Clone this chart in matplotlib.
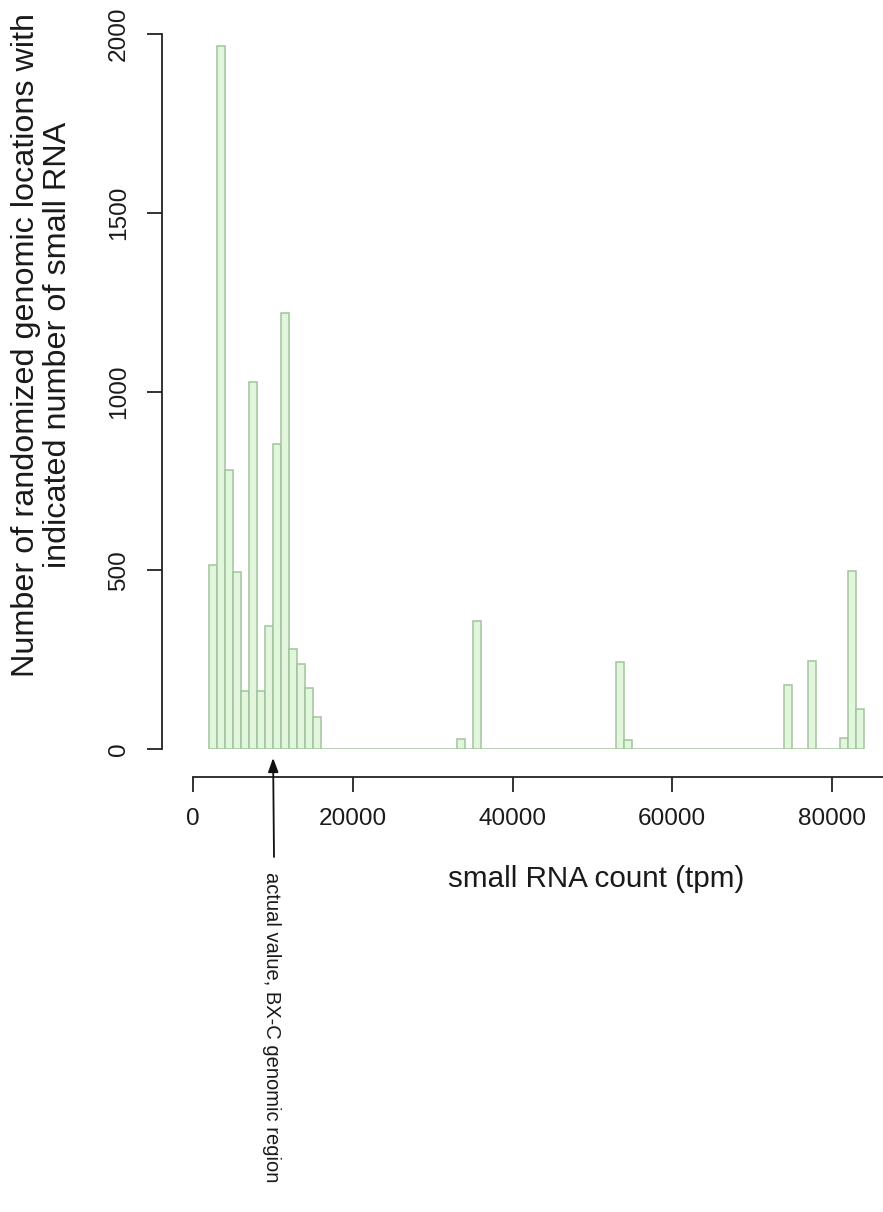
import numpy as np
import matplotlib
matplotlib.use("Agg")
import matplotlib.pyplot as plt

plt.rcParams['font.family'] = ['Liberation Sans', 'DejaVu Sans']

# histogram bins (tpm), width 1000, starting at 2000
bin_start = 2000
bin_width = 1000
counts = [
    515, 1966, 780, 496, 163, 1027, 161, 344, 853, 1219, 280, 239, 171, 89,   # 2k-16k
    0, 0, 0, 0, 0, 0, 0, 0, 0, 0, 0, 0, 0, 0, 0, 0, 0,                        # 16k-33k
    29, 0, 357,                                                                # 33k-36k
    0, 0, 0, 0, 0, 0, 0, 0, 0, 0, 0, 0, 0, 0, 0, 0, 0,                        # 36k-53k
    243, 24,                                                                   # 53k-55k
    0, 0, 0, 0, 0, 0, 0, 0, 0, 0, 0, 0, 0, 0, 0, 0, 0, 0, 0,                  # 55k-74k
    178, 0, 0, 246, 0, 0, 0, 31, 499, 112,                                     # 74k-84k
]
xticks = [0, 20000, 40000, 60000, 80000]
yticks = [0, 500, 1000, 1500, 2000]
actual_value = 10000

W, H = 883, 1212
fig = plt.figure(figsize=(W / 100, H / 100), dpi=100)

# axes spans x=0 at px 193.3 to right edge, y 0..2000 at px 749..34
px_per_x = (831.7 - 193.3) / 80000
x_right = (W - 193.3) / px_per_x
ax = fig.add_axes([193.3 / W, (H - 749) / H, (W - 193.3) / W, (749 - 34) / H])

lefts = bin_start + bin_width * np.arange(len(counts))
ax.bar(lefts, counts, width=bin_width, align='edge',
       color='#e2f5dd', edgecolor='#a2c59c', linewidth=1.1)

ax.set_xlim(0, x_right)
ax.set_ylim(0, 2000)

for s in ['top', 'right']:
    ax.spines[s].set_visible(False)
ax.spines['left'].set_position(('outward', 31.8 * 0.72))
ax.spines['bottom'].set_position(('outward', 28.3 * 0.72))
ax.spines['left'].set_bounds(0, 2000)
ax.spines['bottom'].set_bounds(0, x_right)
for s in ['left', 'bottom']:
    ax.spines[s].set_linewidth(1.3)
    ax.spines[s].set_color('#222222')

ax.set_xticks(xticks)
ax.set_xticklabels([str(v) for v in xticks])
ax.set_yticks(yticks)
ax.set_yticklabels([str(v) for v in yticks], rotation=90, va='center')
ax.tick_params(axis='both', length=10.8, width=1.3, color='#222222',
               labelsize=17.6, labelcolor='#1a1a1a')
ax.tick_params(axis='x', pad=11)
ax.tick_params(axis='y', pad=12)

fig.text(596.5 / W, 1 - 879 / H, 'small RNA count (tpm)', fontsize=21.3,
         ha='center', va='center', color='#1a1a1a')
fig.text(42 / W, 1 - 345 / H,
         'Number of randomized genomic locations with\nindicated number of small RNA',
         fontsize=23.3, rotation=90, ha='center', va='center',
         multialignment='center', linespacing=1.12, color='#1a1a1a')

# arrow marking the actual value
ax.annotate('', xy=(actual_value, -25), xycoords='data',
            xytext=(274 / W, 1 - 857 / H), textcoords='figure fraction',
            arrowprops=dict(arrowstyle='-|>,head_length=0.6,head_width=0.22',
                            color='#111111', lw=1.3,
                            mutation_scale=14, shrinkA=0, shrinkB=0),
            annotation_clip=False)
fig.text(271 / W, 1 - 872 / H, 'actual value, BX-C genomic region',
         fontsize=14.5, rotation=-90, ha='center', va='top', color='#1a1a1a')

fig.savefig('out.png', dpi=100)
